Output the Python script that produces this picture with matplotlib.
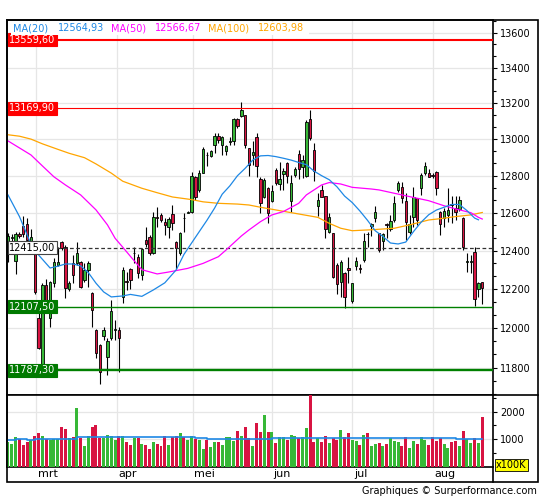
import numpy as np
import matplotlib
matplotlib.use("Agg")
import matplotlib.pyplot as plt
from matplotlib.ticker import FixedLocator, NullFormatter, FuncFormatter
from matplotlib.transforms import blended_transform_factory
from matplotlib.patches import Rectangle
from matplotlib.lines import Line2D

plt.rcParams['font.family'] = ['DejaVu Sans']

# ---------------- data ----------------
opens = [12393,12465,12346,12485,12530,12540,12445,12388,12051,11800,
 12221,12051,12230,12325,12445,12420,12200,12335,12335,12340,
 12247,12299,12180,11990,11914,11960,11855,11950,11990,11990,
 12160,12240,12305,12385,12366,12273,12456,12472,12388,12576,
 12589,12552,12526,12594,12445,12388,12575,12600,12605,12795,
 12723,12815,12915,12908,12968,13018,12968,12935,12985,12990,
 13112,13128,13134,12950,12913,13012,12782,12686,12734,12664,
 12831,12755,12810,12870,12664,12804,12919,12848,12799,13112,
 12941,12637,12723,12690,12498,12493,12325,12237,12283,12310,
 12138,12320,12310,12351,12490,12530,12571,12495,12452,12538,
 12512,12562,12723,12737,12662,12500,12580,12678,12734,12817,
 12817,12805,12822,12607,12571,12589,12645,12625,12621,12571,
 12340,12340,12391,12198,12238]
highs = [12493,12490,12500,12500,12585,12575,12512,12403,12092,12232,
 12250,12240,12361,12418,12450,12430,12240,12377,12445,12345,
 12335,12345,12185,11995,11920,12005,11950,12143,12040,12005,
 12315,12290,12310,12420,12380,12415,12525,12480,12605,12632,
 12600,12572,12578,12642,12450,12498,12600,12612,12820,12800,
 12831,12957,12930,12940,13035,13035,13015,12968,13012,13115,
 13115,13205,13134,12950,12990,13035,12795,12788,12740,12750,
 12842,12875,12842,12875,12804,12848,12941,12913,13106,13162,
 12980,12707,12750,12690,12600,12493,12335,12351,12288,12366,
 12232,12366,12330,12493,12498,12545,12634,12495,12492,12545,
 12589,12688,12772,12768,12705,12589,12740,12678,12813,12877,
 12835,12815,12828,12612,12625,12732,12688,12690,12690,12580,
 12386,12377,12420,12238,12238]
lows = [12340,12440,12278,12465,12470,12440,12420,12175,11895,11787,
 12135,12005,12210,12320,12403,12155,12190,12232,12325,12205,
 12237,12210,12005,11850,11720,11940,11763,11940,11940,11778,
 12130,12195,12200,12335,12257,12247,12420,12377,12380,12525,
 12550,12483,12467,12509,12304,12377,12500,12597,12600,12669,
 12712,12815,12850,12900,12925,12980,12913,12913,12968,12968,
 13060,13120,12950,12800,12860,12795,12600,12680,12546,12658,
 12750,12723,12723,12761,12605,12795,12782,12788,12795,12996,
 12772,12584,12686,12467,12493,12257,12175,12160,12102,12232,
 12128,12300,12283,12340,12420,12475,12553,12394,12403,12465,
 12503,12553,12714,12651,12456,12490,12527,12536,12696,12804,
 12792,12790,12696,12483,12527,12553,12545,12562,12610,12403,
 12290,12283,12110,12160,12125]
closes = [12477,12472,12488,12478,12488,12456,12470,12185,11900,12221,
 12143,12235,12340,12340,12414,12205,12232,12273,12388,12210,
 12299,12335,12092,11875,11780,11990,11935,12087,11995,11950,
 12299,12238,12247,12390,12283,12408,12435,12388,12578,12572,
 12562,12536,12567,12546,12414,12493,12570,12605,12800,12686,
 12815,12946,12910,12935,13018,12996,13012,12962,12988,13112,
 13073,13162,12968,12859,12930,12853,12653,12777,12600,12718,
 12761,12782,12826,12799,12761,12836,12836,12886,13095,13007,
 12826,12669,12686,12514,12578,12262,12226,12340,12160,12300,
 12232,12345,12305,12450,12486,12540,12607,12403,12488,12534,
 12557,12655,12763,12680,12553,12540,12687,12562,12804,12853,
 12792,12800,12734,12541,12611,12616,12640,12607,12669,12417,
 12345,12345,12150,12233,12204]
volumes = [889,840,1074,1012,802,914,963,1136,1210,1136,
 1012,963,1012,1012,1432,1358,1062,1099,2136,1049,
 765,1136,1432,1506,1037,1037,1173,1136,988,1136,
 1136,914,802,1037,1037,840,802,654,889,840,
 741,1136,802,1074,1136,1210,1074,988,1136,1012,
 988,654,963,728,889,889,802,1099,1099,951,
 1284,1136,1457,1062,741,1580,1259,1877,1259,1270,
 877,1099,1099,988,1173,1136,1049,1099,1407,2630,
 914,1049,914,1136,877,1049,988,1321,1099,1235,
 988,951,802,1173,1235,765,840,877,765,840,
 1037,951,914,765,1099,704,951,840,1099,988,
 778,1099,951,1049,840,704,914,951,741,1284,
 1012,877,1049,877,1815]

# moving averages (candle index -> value)
ma20_idx = [0,3,6,8,11,13,15,17,19,21,23,25,27,30,32,35,38,41,44,46,
            48,50,52,54,56,58,60,62,64,66,68,70,72,74,76,78,80,82,84,86,
            88,90,92,94,96,98,100,102,104,106,108,110,112,114,116,118,120,122,123]
ma20_val = [12696,12580,12435,12377,12309,12318,12330,12330,12320,12285,
            12230,12185,12159,12164,12172,12162,12195,12232,12300,12380,
            12440,12500,12560,12625,12700,12745,12800,12840,12885,12908,
            12910,12904,12895,12885,12872,12860,12825,12800,12778,12740,
            12690,12655,12610,12560,12505,12475,12440,12435,12445,12500,
            12550,12590,12615,12630,12645,12645,12612,12572,12563]
ma50_idx = [0,6,9,12,15,19,23,26,28,30,32,35,39,42,47,51,55,57,61,63,
            66,69,72,76,78,82,84,87,90,95,97,101,105,110,114,118,121,123,124]
ma50_val = [12990,12913,12853,12794,12750,12696,12616,12536,12465,12418,
            12370,12300,12278,12288,12307,12333,12368,12403,12477,12509,
            12553,12589,12607,12651,12696,12750,12763,12755,12737,12728,
            12723,12705,12687,12665,12638,12616,12601,12576,12567]
ma100_idx = [0,3,6,9,13,16,20,23,27,30,35,39,43,48,51,55,60,63,66,71,
             76,81,84,87,90,95,101,105,110,113,117,121,124]
ma100_val = [13024,13016,13000,12974,12944,12922,12898,12864,12814,12770,
             12732,12708,12685,12671,12659,12651,12647,12642,12630,12612,
             12594,12576,12544,12518,12505,12510,12518,12536,12562,12569,
             12580,12589,12602]
vma_idx = [0,2,5,7,18,23,49,52,69,117,124]
vma_val = [988,1025,988,1025,1074,1086,1049,1025,1049,1012,1012]

ma_names = ["MA(20)", "MA(50)", "MA(100)"]
ma_last = [12564.93, 12566.67, 12603.98]

levels = [13559.60, 13169.90, 12415.00, 12107.50, 11787.30]

month_labels = ['mrt', 'apr', 'mei', 'jun', 'jul', 'aug']
month_pos = [7.3, 28.4, 48.3, 69.0, 90.0, 111.0]

price_ticks = [11800, 12000, 12200, 12400, 12600, 12800, 13000, 13200, 13400, 13600]
vol_ticks = [1000, 2000]

# ---------------- style ----------------
GREEN = '#37b837'
RED = '#d81442'
BLUE = '#1e88e5'
MAGENTA = '#ff00ff'
ORANGE = '#ffa500'
GRID = '#e6e6e6'

W, H = 545, 500
fig = plt.figure(figsize=(W / 100, H / 100), dpi=100)

def fx(px):
    return px / W

def fy(py):
    return 1 - py / H

L, R = 6.7, 493.3
ax = fig.add_axes([fx(L), fy(395), fx(R) - fx(L), fy(20) - fy(395)])
axv = fig.add_axes([fx(L), fy(467), fx(R) - fx(L), fy(395) - fy(467)])

o = np.array(opens, float); h = np.array(highs, float)
l = np.array(lows, float); c = np.array(closes, float)
x = np.arange(len(o))
up = c >= o
cols = np.where(up, GREEN, RED)

# price panel
ax.set_yscale('log')
ax.set_xlim(-0.34, 126.88)
ax.set_ylim(11664, 13673)
for p in month_pos:
    ax.axvline(p, color=GRID, lw=0.9, zorder=0)
    axv.axvline(p, color=GRID, lw=0.9, zorder=0)
for t in price_ticks:
    ax.axhline(t, color=GRID, lw=0.9, zorder=0)

ax.vlines(x, l, h, color='black', lw=0.8, zorder=3)
body_b = np.minimum(o, c)
body_h = np.maximum(np.abs(c - o), 1.2)
ax.bar(x, body_h, bottom=body_b, width=0.62, color=cols, edgecolor='black',
       linewidth=0.6, zorder=4)

ax.plot(ma100_idx, ma100_val, color=ORANGE, lw=0.9, zorder=6)
ax.plot(ma50_idx, ma50_val, color=MAGENTA, lw=0.9, zorder=6)
ax.plot(ma20_idx, ma20_val, color=BLUE, lw=0.9, zorder=6)

lvl_style = [
    dict(color='#ff0000', lw=1.5, ls='-', fc='#ff0000', tc='white', ec='#ff0000'),
    dict(color='#ff0000', lw=0.8, ls='-', fc='#ff0000', tc='white', ec='#ff0000'),
    dict(color='#333333', lw=0.9, ls=(0, (3, 2)), fc='white', tc='black', ec='#444444'),
    dict(color='#008000', lw=1.0, ls='-', fc='#007a00', tc='white', ec='#007a00'),
    dict(color='#008000', lw=1.7, ls='-', fc='#007a00', tc='white', ec='#007a00'),
]
btrans = blended_transform_factory(ax.transAxes, ax.transData)
for v, st in zip(levels, lvl_style):
    ax.axhline(v, color=st['color'], lw=st['lw'], ls=st['ls'], zorder=5)
    ax.text(0.0055, v, f"{v:.2f}".replace('.', ','), transform=btrans,
            ha='left', va='center', fontsize=7, color=st['tc'], zorder=10,
            bbox=dict(boxstyle='square,pad=0.15', fc=st['fc'], ec=st['ec'], lw=0.8))

ax.yaxis.set_ticks_position('right')
ax.yaxis.set_major_locator(FixedLocator(price_ticks))
ax.yaxis.set_major_formatter(FuncFormatter(lambda v, pos: f"{v:.0f}"))
minor = [t + k * 200 / 3 for t in [11600] + price_ticks for k in (1, 2)]
ax.yaxis.set_minor_locator(FixedLocator(minor))
ax.yaxis.set_minor_formatter(NullFormatter())
ax.tick_params(axis='y', which='major', direction='out', length=3, width=0.8,
               pad=2, labelsize=7)
ax.tick_params(axis='y', which='minor', direction='out', length=2, width=0.8)
ax.tick_params(axis='x', which='both', bottom=False, labelbottom=False)

# volume panel
axv.set_xlim(-0.34, 126.88)
axv.set_ylim(0, 2600)
for t in vol_ticks:
    axv.axhline(t, color=GRID, lw=0.9, zorder=0)
axv.bar(x, volumes, width=0.78, color=cols, zorder=3)
axv.step(vma_idx, vma_val, where='post', color=BLUE, lw=1.2, zorder=4)
axv.yaxis.set_ticks_position('right')
axv.yaxis.set_major_locator(FixedLocator(vol_ticks))
axv.yaxis.set_major_formatter(FuncFormatter(lambda v, pos: f"{v:.0f}"))
axv.yaxis.set_minor_locator(FixedLocator([500, 1500, 2500]))
axv.yaxis.set_minor_formatter(NullFormatter())
axv.tick_params(axis='y', which='major', direction='out', length=3, width=0.8,
                pad=2, labelsize=7)
axv.tick_params(axis='y', which='minor', direction='out', length=2, width=0.8)
axv.tick_params(axis='x', which='both', bottom=False, labelbottom=False)

mtrans = blended_transform_factory(axv.transData, axv.transAxes)
for p, lab in zip(month_pos, month_labels):
    axv.text(p + 0.45, -0.104, lab, transform=mtrans, ha='left', va='center',
             fontsize=8, color='black')

for a in (ax, axv):
    for s in a.spines.values():
        s.set_linewidth(1.2)
        s.set_color('black')

# frame and separators
fig.add_artist(Rectangle((fx(6.7), fy(482.3)), fx(538.3) - fx(6.7), fy(20) - fy(482.3),
                         transform=fig.transFigure, fill=False, ec='black', lw=1.2, zorder=20))
fig.add_artist(Line2D([fx(R), fx(538.3)], [fy(395), fy(395)], transform=fig.transFigure,
                      color='black', lw=1.2, zorder=20))
fig.add_artist(Line2D([fx(R), fx(R)], [fy(467), fy(482.3)], transform=fig.transFigure,
                      color='black', lw=1.2, zorder=20))

# legend
fig.add_artist(Rectangle((fx(11), fy(35)), fx(309) - fx(11), fy(21.7) - fy(35),
                         transform=fig.transFigure, fc='white', ec='none', zorder=15))
ma_cols = [BLUE, MAGENTA, ORANGE]
name_x = [13.3, 111, 208]
val_x = [57.7, 154.5, 258]
for nm, vv, cc, nx, vx in zip(ma_names, ma_last, ma_cols, name_x, val_x):
    fig.text(fx(nx), fy(28.5), nm, color=cc, fontsize=7, ha='left', va='center', zorder=16)
    fig.text(fx(vx), fy(28.5), f"{vv:.2f}".replace('.', ','), color=cc, fontsize=7,
             ha='left', va='center', zorder=16)

# unit box and footer
fig.text(fx(496), fy(465), "x100K", fontsize=7, ha='left', va='center', color='black',
         zorder=16, bbox=dict(boxstyle='square,pad=0.12', fc='#ffff00', ec='black', lw=0.6))
fig.text(fx(537), fy(491.5), "Graphiques \u00a9 Surperformance.com", fontsize=7,
         ha='right', va='center', color='black', zorder=16)

fig.savefig("out.png", dpi=100)
